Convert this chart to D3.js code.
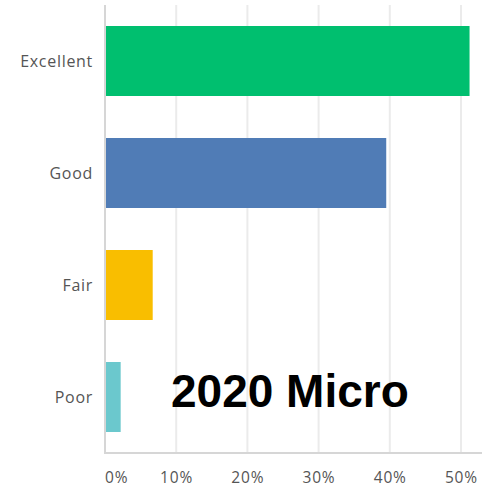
<!DOCTYPE html>
<html>
<head>
<meta charset="utf-8">
<script src="https://cdn.jsdelivr.net/npm/d3@7"></script>
<style>
  body { margin: 0; background: #fff; }
  svg { display: block; }
</style>
</head>
<body>
<script>
// data
var categories = ["Excellent", "Good", "Fair", "Poor"];
var values = [51.2, 39.5, 6.7, 2.2];
var barColors = ["#00bf6f", "#507cb6", "#f9be00", "#6bc8cd"];
var tickValues = [0, 10, 20, 30, 40, 50];
var overlayTitle = "2020 Micro";

var width = 492, height = 488;
var margin = {l: 105, t: 5, r: 10, b: 35};

var svg = d3.select("body").append("svg")
    .attr("width", width)
    .attr("height", height);

var x = d3.scaleLinear()
    .domain([0, 50])
    .range([margin.l, 461]);

var y = d3.scaleBand()
    .domain(categories)
    .range([margin.t, height - margin.b])
    .paddingInner(0.375)
    .paddingOuter(0.1875);

var g = svg.append("g");

// gridlines
g.selectAll(".grid")
    .data(tickValues.slice(1))
    .enter()
    .append("line")
    .attr("class", "grid")
    .attr("x1", function (d) { return x(d) })
    .attr("x2", function (d) { return x(d) })
    .attr("y1", margin.t)
    .attr("y2", height - margin.b)
    .style("stroke", "#ebebeb")
    .style("stroke-width", 2);

// bars
g.selectAll(".bar")
    .data(values)
    .enter()
    .append("rect")
    .attr("class", "bar")
    .attr("x", x(0))
    .attr("y", function (d, i) { return y(categories[i]) })
    .attr("width", function (d) { return x(d) - x(0) })
    .attr("height", y.bandwidth())
    .attr("fill", function (d, i) { return barColors[i] });

// axis lines
g.append("line")
    .attr("x1", x(0)).attr("x2", x(0))
    .attr("y1", margin.t).attr("y2", height - margin.b)
    .style("stroke", "#d6d6d6")
    .style("stroke-width", 2);
g.append("line")
    .attr("x1", x(0) - 1).attr("x2", width - margin.r)
    .attr("y1", height - margin.b).attr("y2", height - margin.b)
    .style("stroke", "#d6d6d6")
    .style("stroke-width", 2);

// category labels
g.selectAll(".cat")
    .data(categories)
    .enter()
    .append("text")
    .attr("class", "cat")
    .attr("x", 93)
    .attr("y", function (d) { return y(d) + y.bandwidth() / 2 + 6 })
    .attr("text-anchor", "end")
    .style("font-family", "'Open Sans', sans-serif")
    .style("font-size", "16px")
    .style("letter-spacing", "0.7px")
    .style("fill", "#555")
    .text(function (d) { return d });

// x tick labels
g.selectAll(".tick-label")
    .data(tickValues)
    .enter()
    .append("text")
    .attr("class", "tick-label")
    .attr("x", function (d) { return d === 0 ? x(d) : x(d) + 0.4 })
    .attr("y", 483)
    .attr("text-anchor", function (d) { return d === 0 ? "start" : "middle" })
    .style("font-family", "'Open Sans', sans-serif")
    .style("font-size", "15.5px")
    .style("letter-spacing", "0.8px")
    .style("fill", "#555")
    .text(function (d) { return d + "%" });

// overlay title
svg.append("text")
    .attr("x", 171)
    .attr("y", 407)
    .style("font-family", "'Liberation Sans', Arial, sans-serif")
    .style("font-weight", "bold")
    .style("font-size", "46px")
    .style("fill", "#000")
    .text(overlayTitle);
</script>
</body>
</html>
